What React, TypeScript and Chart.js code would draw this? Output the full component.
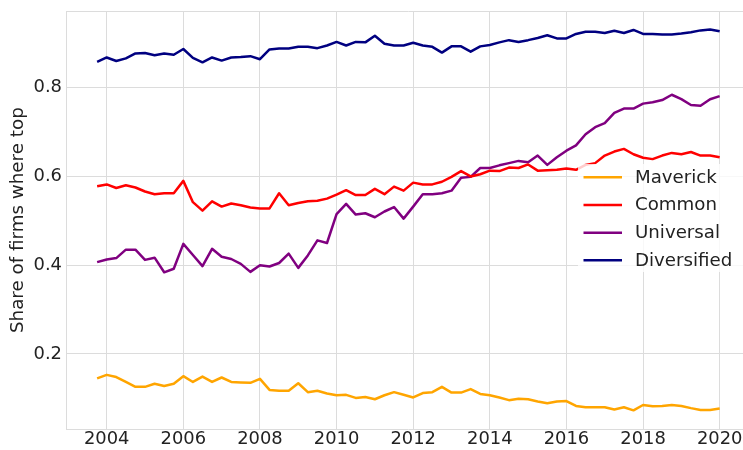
import React, { useEffect, useRef } from 'react';
import { Chart, registerables } from 'chart.js';

Chart.register(...registerables);

// ---------- data ----------
const QUARTERS = [
  '2003Q4',
  '2004Q1', '2004Q2', '2004Q3', '2004Q4',
  '2005Q1', '2005Q2', '2005Q3', '2005Q4',
  '2006Q1', '2006Q2', '2006Q3', '2006Q4',
  '2007Q1', '2007Q2', '2007Q3', '2007Q4',
  '2008Q1', '2008Q2', '2008Q3', '2008Q4',
  '2009Q1', '2009Q2', '2009Q3', '2009Q4',
  '2010Q1', '2010Q2', '2010Q3', '2010Q4',
  '2011Q1', '2011Q2', '2011Q3', '2011Q4',
  '2012Q1', '2012Q2', '2012Q3', '2012Q4',
  '2013Q1', '2013Q2', '2013Q3', '2013Q4',
  '2014Q1', '2014Q2', '2014Q3', '2014Q4',
  '2015Q1', '2015Q2', '2015Q3', '2015Q4',
  '2016Q1', '2016Q2', '2016Q3', '2016Q4',
  '2017Q1', '2017Q2', '2017Q3', '2017Q4',
  '2018Q1', '2018Q2', '2018Q3', '2018Q4',
  '2019Q1', '2019Q2', '2019Q3', '2019Q4',
  '2020Q1',
];

const MAVERICK = [
  0.145,
  0.153, 0.148, 0.137, 0.126,
  0.126, 0.133, 0.128, 0.133,
  0.150, 0.137, 0.149, 0.137,
  0.147, 0.137, 0.136, 0.135,
  0.144, 0.119, 0.117, 0.117,
  0.134, 0.114, 0.117, 0.111,
  0.107, 0.108, 0.101, 0.103,
  0.098, 0.107, 0.114, 0.108,
  0.102, 0.112, 0.114, 0.126,
  0.113, 0.113, 0.121, 0.110,
  0.107, 0.102, 0.096, 0.099,
  0.098, 0.093, 0.089, 0.093,
  0.094, 0.083, 0.080, 0.080,
  0.080, 0.075, 0.080, 0.073,
  0.085, 0.082, 0.083, 0.085,
  0.083, 0.078, 0.074, 0.074,
  0.077,
];

const COMMON = [
  0.578,
  0.582, 0.574, 0.580, 0.575,
  0.566, 0.560, 0.562, 0.562,
  0.590, 0.542, 0.523, 0.544,
  0.532, 0.539, 0.535, 0.530,
  0.528, 0.528, 0.562, 0.535,
  0.540, 0.544, 0.545, 0.550,
  0.559, 0.569, 0.558, 0.558,
  0.572, 0.560, 0.577, 0.568,
  0.586, 0.582, 0.582, 0.588,
  0.599, 0.612, 0.600, 0.605,
  0.613, 0.612, 0.620, 0.619,
  0.627, 0.613, 0.614, 0.615,
  0.618, 0.615, 0.626, 0.630,
  0.647, 0.656, 0.662, 0.650,
  0.642, 0.639, 0.647, 0.653,
  0.650, 0.655, 0.647, 0.647,
  0.643,
];

const UNIVERSAL = [
  0.407,
  0.413, 0.416, 0.435, 0.435,
  0.412, 0.417, 0.384, 0.392,
  0.448, 0.423, 0.398, 0.437,
  0.419, 0.414, 0.403, 0.385,
  0.400, 0.397, 0.405, 0.426,
  0.394, 0.422, 0.456, 0.450,
  0.515, 0.538, 0.514, 0.517,
  0.508, 0.521, 0.531, 0.505,
  0.532, 0.560, 0.560, 0.562,
  0.568, 0.597, 0.599, 0.619,
  0.619, 0.625, 0.630, 0.635,
  0.632, 0.647, 0.626, 0.643,
  0.658, 0.670, 0.695, 0.711,
  0.720, 0.743, 0.753, 0.753,
  0.764, 0.767, 0.772, 0.784,
  0.774, 0.761, 0.759, 0.774,
  0.781,
];

const DIVERSIFIED = [
  0.858,
  0.868, 0.860, 0.866, 0.877,
  0.878, 0.873, 0.877, 0.874,
  0.887, 0.867, 0.857, 0.868,
  0.861, 0.868, 0.869, 0.871,
  0.864, 0.886, 0.888, 0.888,
  0.892, 0.892, 0.889, 0.895,
  0.903, 0.895, 0.903, 0.902,
  0.917, 0.899, 0.895, 0.895,
  0.901, 0.895, 0.892, 0.879,
  0.893, 0.893, 0.881, 0.893,
  0.896, 0.902, 0.907, 0.903,
  0.907, 0.912, 0.918, 0.911,
  0.911, 0.921, 0.926, 0.926,
  0.923, 0.928, 0.923, 0.930,
  0.921, 0.921, 0.920, 0.920,
  0.922, 0.925, 0.929, 0.931,
  0.927,
];

const SERIES_LABELS = ['Maverick', 'Common', 'Universal', 'Diversified'];
const SERIES_VALUES = [MAVERICK, COMMON, UNIVERSAL, DIVERSIFIED];
const SERIES_COLORS = ['#FFA500', '#FF0000', '#800080', '#000080'];

const X_TICKS = [2004, 2006, 2008, 2010, 2012, 2014, 2016, 2018, 2020];
const X_TICK_LABELS = ['2004', '2006', '2008', '2010', '2012', '2014', '2016', '2018', '2020'];
const Y_TICKS = [0.2, 0.4, 0.6, 0.8];
const Y_TICK_LABELS = ['0.2', '0.4', '0.6', '0.8'];
const Y_TITLE = 'Share of firms where top';

// ---------- styling ----------
const FONT = '"DejaVu Sans", "Liberation Sans", sans-serif';
const TEXT_COLOR = '#222222';
const GRID_COLOR = '#dcdcdc';
const LINE_W = 2.5;
const CANVAS_W = 752;
const CANVAS_H = 450;

function quarterToYear(q: string): number {
  const [y, qq] = q.split('Q');
  return Number(y) + (Number(qq) - 1) * 0.25;
}

const decorPlugin = {
  id: 'decor',
  afterDatasetsDraw(chart: any) {
    const ctx = chart.ctx as CanvasRenderingContext2D;
    const area = chart.chartArea;
    ctx.save();
    // top spine
    ctx.strokeStyle = GRID_COLOR;
    ctx.lineWidth = 1;
    const ty = Math.round(area.top) + 0.5;
    ctx.beginPath();
    ctx.moveTo(area.left, ty);
    ctx.lineTo(area.right, ty);
    ctx.stroke();

    // legend box
    const bx = 578, by = 164, bw = 200, bh = 108, r = 4;
    ctx.fillStyle = 'rgba(255,255,255,0.8)';
    ctx.beginPath();
    ctx.moveTo(bx + r, by);
    ctx.lineTo(bx + bw - r, by);
    ctx.quadraticCurveTo(bx + bw, by, bx + bw, by + r);
    ctx.lineTo(bx + bw, by + bh - r);
    ctx.quadraticCurveTo(bx + bw, by + bh, bx + bw - r, by + bh);
    ctx.lineTo(bx + r, by + bh);
    ctx.quadraticCurveTo(bx, by + bh, bx, by + bh - r);
    ctx.lineTo(bx, by + r);
    ctx.quadraticCurveTo(bx, by, bx + r, by);
    ctx.closePath();
    ctx.fill();

    chart.data.datasets.forEach((ds: any, i: number) => {
      const y = 177.3 + i * 27.67;
      ctx.strokeStyle = ds.borderColor;
      ctx.lineWidth = LINE_W;
      ctx.lineCap = 'butt';
      ctx.beginPath();
      ctx.moveTo(583.5, y);
      ctx.lineTo(622, y);
      ctx.stroke();
      ctx.fillStyle = TEXT_COLOR;
      ctx.font = `18.2px ${FONT}`;
      ctx.textAlign = 'left';
      ctx.textBaseline = 'middle';
      ctx.fillText(ds.label, 635, y + 0.5);
    });
    ctx.restore();
  },
};

export default function App() {
  const canvasRef = useRef<HTMLCanvasElement | null>(null);

  useEffect(() => {
    if (!canvasRef.current) return;
    const xs = QUARTERS.map(quarterToYear);
    const datasets = SERIES_LABELS.map((label, i) => ({
      label,
      data: SERIES_VALUES[i].map((v, j) => ({ x: xs[j], y: v })),
      borderColor: SERIES_COLORS[i],
      backgroundColor: SERIES_COLORS[i],
      borderWidth: LINE_W,
      pointRadius: 0,
      tension: 0,
      fill: false,
      borderJoinStyle: 'round' as const,
      borderCapStyle: 'butt' as const,
    }));

    const chart = new Chart(canvasRef.current, {
      type: 'line',
      data: { datasets },
      options: {
        animation: false,
        responsive: false,
        devicePixelRatio: 1,
        layout: { padding: { top: 11.3, left: 0, right: CANVAS_W - 750.8, bottom: 0 } },
        plugins: {
          legend: { display: false },
          tooltip: { enabled: false },
        },
        scales: {
          x: {
            type: 'linear',
            min: 2002.9375,
            max: 2020.8125,
            afterBuildTicks: (scale: any) => {
              scale.ticks = X_TICKS.map((v) => ({ value: v }));
            },
            afterFit: (scale: any) => {
              scale.height = 21;
              scale.paddingLeft = 0;
              scale.paddingRight = 0;
            },
            ticks: {
              autoSkip: false,
              maxRotation: 0,
              padding: 0,
              color: TEXT_COLOR,
              font: { family: FONT, size: 17.9 },
              callback: (value: any) => {
                const idx = X_TICKS.indexOf(Number(value));
                return idx >= 0 ? X_TICK_LABELS[idx] : '';
              },
            },
            grid: { color: GRID_COLOR, lineWidth: 1, drawTicks: false },
            border: { display: true, color: GRID_COLOR, width: 1 },
          },
          y: {
            type: 'linear',
            min: 0.031,
            max: 0.972,
            afterBuildTicks: (scale: any) => {
              scale.ticks = Y_TICKS.map((v) => ({ value: v }));
            },
            afterFit: (scale: any) => {
              scale.width = 66;
              scale.paddingTop = 0;
              scale.paddingBottom = 0;
            },
            ticks: {
              padding: 4,
              color: TEXT_COLOR,
              font: { family: FONT, size: 17.9 },
              callback: (value: any) => {
                const idx = Y_TICKS.findIndex((t) => Math.abs(t - Number(value)) < 1e-9);
                return idx >= 0 ? Y_TICK_LABELS[idx] : '';
              },
            },
            grid: { color: GRID_COLOR, lineWidth: 1, drawTicks: false },
            border: { display: true, color: GRID_COLOR, width: 1 },
            title: {
              display: true,
              text: Y_TITLE,
              color: TEXT_COLOR,
              font: { family: FONT, size: 18.3 },
              padding: { top: 7.6, bottom: 0 },
            },
          },
        },
      },
      plugins: [decorPlugin],
    } as any);

    return () => chart.destroy();
  }, []);

  return (
    <div
      style={{
        position: 'fixed',
        left: 0,
        top: 0,
        width: 743,
        height: 450,
        overflow: 'hidden',
        background: '#ffffff',
      }}
    >
      <canvas
        ref={canvasRef}
        width={CANVAS_W}
        height={CANVAS_H}
        style={{ display: 'block', width: CANVAS_W, height: CANVAS_H }}
      />
    </div>
  );
}
